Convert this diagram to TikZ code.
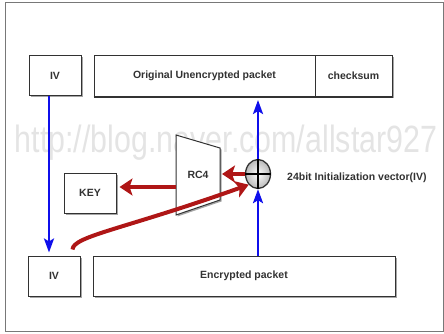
\documentclass[tikz,border=0pt]{standalone}
\usepackage{fontspec}
\setmainfont{Liberation Sans}
\usetikzlibrary{arrows.meta,shadows,calc,shapes.geometric}
\definecolor{boxline}{RGB}{50,50,50}
\definecolor{arrowblue}{RGB}{15,15,235}
\definecolor{arrowred}{RGB}{175,22,22}
\definecolor{wmgray}{RGB}{228,228,228}
\definecolor{txt}{RGB}{50,50,50}
\definecolor{framegray}{RGB}{120,120,120}
\begin{document}
\begin{tikzpicture}[x=1pt,y=-1pt,
  pbox/.style={draw=boxline, line width=1pt, fill=white, minimum width=#1,
    minimum height=40pt, inner sep=0pt, font=\bfseries\fontsize{10.5}{13}\selectfont, text=txt,
    drop shadow={shadow xshift=1.5pt, shadow yshift=-1.5pt, opacity=0.35, fill=black}},
  pbox/.default=52pt,
  bluearrow/.style={draw=arrowblue, line width=2.6pt,
    -{Stealth[length=14pt,width=10pt,inset=3pt]}},
  redarrow/.style={draw=arrowred, line width=4pt,
    -{Stealth[length=13pt,width=17pt,inset=3pt]}},
  wmtext/.style={text=wmgray, font=\fontsize{38}{40}\selectfont, xscale=0.8, inner sep=0pt},
  lbl/.style={text=txt, font=\bfseries\fontsize{10.5}{13}\selectfont, inner sep=0pt}]
\useasboundingbox (0,0) rectangle (444,334);
\draw[framegray, line width=1pt] (5,3) rectangle (443.5,331.5);
% watermark
\node[wmtext] (wm) at (226,143) {http://blog.naver.com/allstar927};
% boxes
\node[pbox] (ivtop) at (55,75.5) {IV};
\node[pbox=221pt, minimum height=41pt] (orig) at (204.5,76) {Original Unencrypted packet};
\node[pbox=77pt, minimum height=41pt] (check) at (353.5,76) {checksum};
\draw[boxline, line width=2pt] (orig.south west) -- (check.south east);
\node[pbox] (ivbot) at (54,276) {IV};
\node[pbox=302pt] (enc) at (244,276) {Encrypted packet};
\node[pbox] (key) at (90,193) {KEY};
% RC4 trapezoid
\coordinate (ra) at (176,135);
\coordinate (rb) at (220,148);
\coordinate (rc) at (220,200);
\coordinate (rd) at (176,215);
\draw[boxline, line width=1pt, fill=white,
  drop shadow={shadow xshift=1.5pt, shadow yshift=-1.5pt, opacity=0.35, fill=black}]
  (ra) -- (rb) -- (rc) -- (rd) -- cycle;
\node[lbl] (rc4) at (198,175) {RC4};
\coordinate (rcright) at ($(rb)!0.5!(rc)$);
\coordinate (rcleft) at ($(ra)!0.65!(rd)$);
% XOR
\node[ellipse, draw=boxline, line width=1.3pt, minimum width=25pt, minimum height=29pt,
  inner sep=0pt, inner color=white, outer color=gray!55] (xor) at (258,174) {};
\draw[black, line width=1.5pt] (xor.north) -- (xor.south);
\draw[black, line width=1.5pt] (xor.west) -- (xor.east);
\node[lbl, anchor=west] (ivlabel) at (287,178) {24bit Initialization vector(IV)};
% blue arrows
\draw[bluearrow] ([xshift=-6pt]ivtop.south) -- ([xshift=-5pt,yshift=3pt]ivbot.north);
\draw[bluearrow] (enc.north -| xor.south) -- (xor.south);
\draw[bluearrow] (xor.north) -- ([yshift=-3pt]xor.north |- orig.south);
% red arrows
\draw[redarrow] (xor.west) -- ([xshift=2pt]rcright);
\draw[redarrow] (rcleft) -- ([xshift=3pt]rcleft -| key.east);
\draw[redarrow] ($(ivbot.north east)+(-8,-6)$) .. controls (73,236) and (125,229) .. (xor.south west);
\end{tikzpicture}
\end{document}
